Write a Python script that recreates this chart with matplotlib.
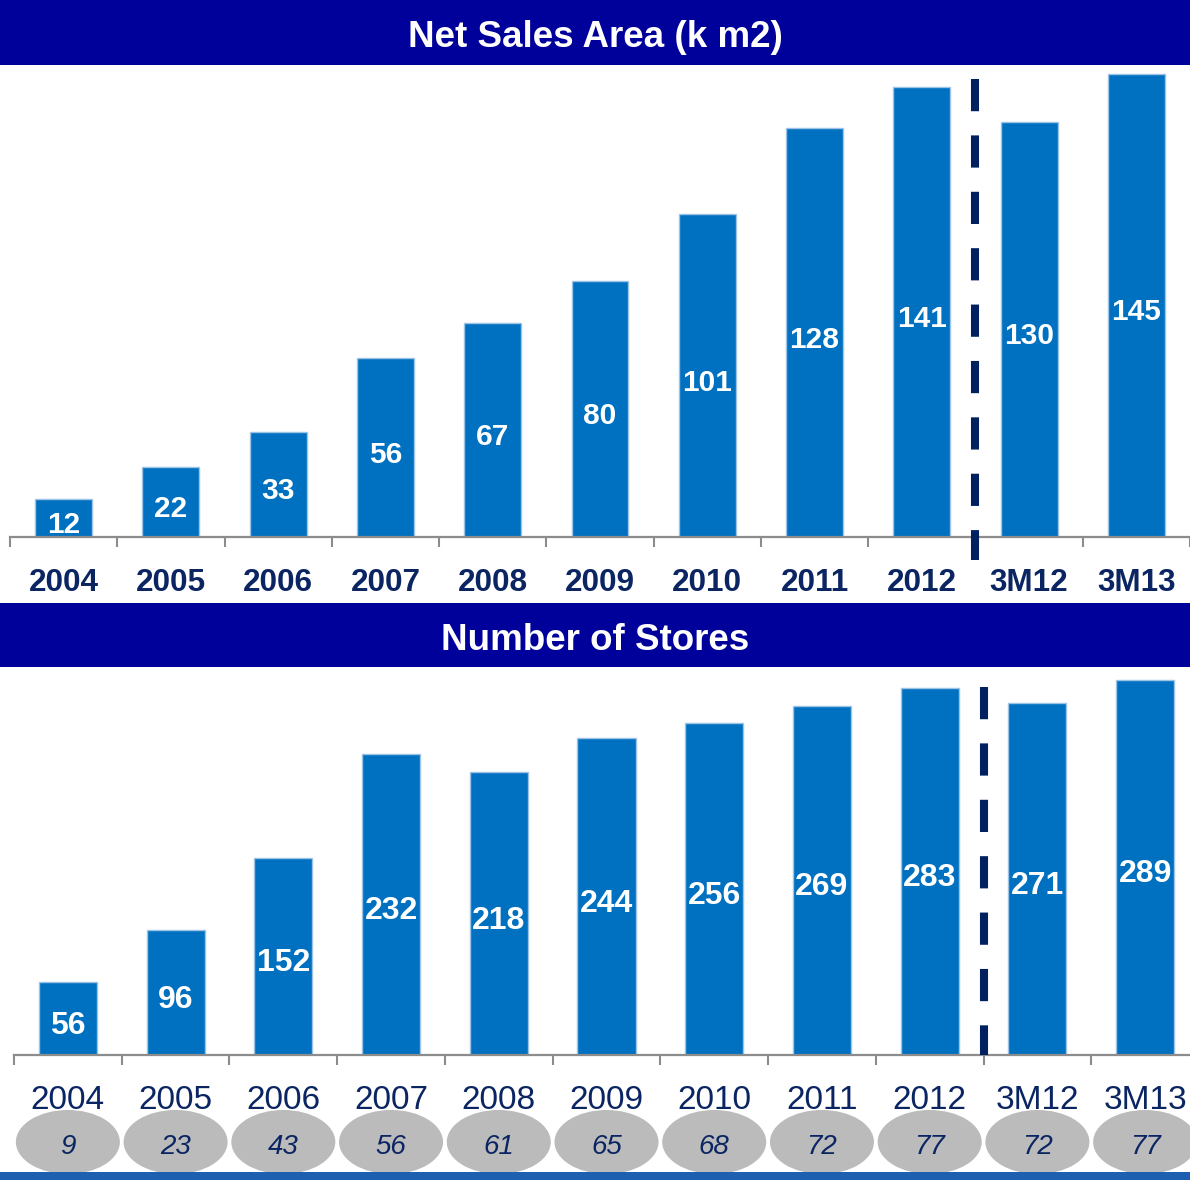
import matplotlib
matplotlib.use("Agg")
import matplotlib.pyplot as plt
from matplotlib.patches import Rectangle, Ellipse
from matplotlib.transforms import IdentityTransform, blended_transform_factory
import numpy as np

# ---- data -------------------------------------------------------------
periods = ["2004", "2005", "2006", "2007", "2008", "2009",
           "2010", "2011", "2012", "3M12", "3M13"]
sales_area_km2 = [12, 22, 33, 56, 67, 80, 101, 128, 141, 130, 145]
store_count = [56, 96, 152, 232, 218, 244, 256, 269, 283, 271, 289]
hyper_count = [9, 23, 43, 56, 61, 65, 68, 72, 77, 72, 77]
titles = ["Net Sales Area (k m2)", "Number of Stores"]

# ---- style ------------------------------------------------------------
plt.rcParams['font.family'] = ['Liberation Sans', 'DejaVu Sans']
W, H, DPI = 1190, 1180, 100
HEADER = '#00009A'
BAR = '#0070C0'
BAR_EDGE = '#9DC3E6'
NAVY = '#0B2563'
AXIS = '#8C8C8C'
DIVIDER = '#002060'

fig = plt.figure(figsize=(W / DPI, H / DPI), dpi=DPI)
fig.patch.set_facecolor('white')


def px_rect(left, top, right, bottom):
    """Axes rectangle in figure fractions from pixel edges (origin top-left)."""
    return [left / W, 1 - bottom / H, (right - left) / W, (bottom - top) / H]


def header(top, bottom, text, baseline):
    fig.add_artist(Rectangle((0, 1 - bottom / H), 1, (bottom - top) / H,
                             transform=fig.transFigure, facecolor=HEADER,
                             edgecolor='none', zorder=1))
    fig.text(0.5, 1 - baseline / H, text, ha='center', va='baseline',
             color='white', fontsize=26.5, fontweight='bold', zorder=3)


def panel(rect, values, ymax, bar_w, val_size, cat_size, cat_weight,
          divider_span):
    ax = fig.add_axes(rect)
    ax.patch.set_alpha(0)
    x = np.arange(len(values))
    ax.bar(x, values, width=bar_w, color=BAR, edgecolor=BAR_EDGE,
           linewidth=1, zorder=2)
    ax.set_xlim(-0.5, len(values) - 0.5)
    ax.set_ylim(0, ymax)
    for side in ['top', 'left', 'right']:
        ax.spines[side].set_visible(False)
    ax.spines['bottom'].set_color(AXIS)
    ax.spines['bottom'].set_linewidth(1.6)
    ax.spines['bottom'].set_zorder(3)
    ax.set_yticks([])
    ax.set_xticks(np.arange(len(values) + 1) - 0.5)
    ax.set_xticklabels([])
    ax.tick_params(axis='x', direction='out', length=7.5, width=1.5,
                   color=AXIS)

    for xi, v in zip(x, values):
        ax.annotate(str(v), (xi, v / 2), xytext=(0, -15),
                    textcoords='offset pixels', ha='center', va='baseline',
                    color='white', fontweight='bold', fontsize=val_size,
                    zorder=4, annotation_clip=False)
    for xi, lab in zip(x, periods):
        ax.annotate(lab, (xi, 0), xytext=(0, -54),
                    textcoords='offset pixels', ha='center', va='baseline',
                    color=NAVY, fontweight=cat_weight, fontsize=cat_size,
                    annotation_clip=False)

    # divider between full years and quarterly figures
    trans = blended_transform_factory(ax.transData, ax.transAxes)
    split = len(values) - 2.5
    ax.plot([split, split], divider_span, transform=trans, color=DIVIDER,
            lw=5.8, linestyle=(0, (4, 3)), dash_capstyle='butt',
            solid_capstyle='butt', clip_on=False, zorder=5)
    return ax


# ---- top panel: net sales area ---------------------------------------
header(0, 65, titles[0], 47)
top_px = (10, 65, 1190, 537)
ax1 = panel(px_rect(*top_px), sales_area_km2, ymax=(537 - 65) / 3.195,
            bar_w=0.53, val_size=21.5, cat_size=22.7, cat_weight='bold',
            divider_span=[(537 - 79) / 472, (537 - 560) / 472])

# ---- bottom panel: number of stores ----------------------------------
header(603, 667, titles[1], 650)
bot_px = (14, 667, 1199, 1055)
ax2 = panel(px_rect(*bot_px), store_count, ymax=(1055 - 667) / 1.2976,
            bar_w=0.54, val_size=23, cat_size=24, cat_weight='normal',
            divider_span=[(1055 - 687) / 388, 0])

# ---- grey ovals with hypermarket counts under each period -------------
fig.canvas.draw()
for i, n in enumerate(hyper_count):
    cx = ax2.transData.transform((i, 0))[0]
    cy = H - 1142
    fig.add_artist(Ellipse((cx, cy), 104, 64, transform=IdentityTransform(),
                           facecolor='#BBBBBB', edgecolor='none', zorder=4))
    fig.text(cx / W, (cy - 12) / H, str(n), ha='center', va='baseline',
             color=NAVY, fontsize=20, fontstyle='italic', zorder=5)

# footer band
fig.add_artist(Rectangle((0, 0), 1, 8 / H, transform=fig.transFigure,
                         facecolor='#1F5FAF', edgecolor='none', zorder=6))

fig.savefig('out.png', dpi=DPI)
